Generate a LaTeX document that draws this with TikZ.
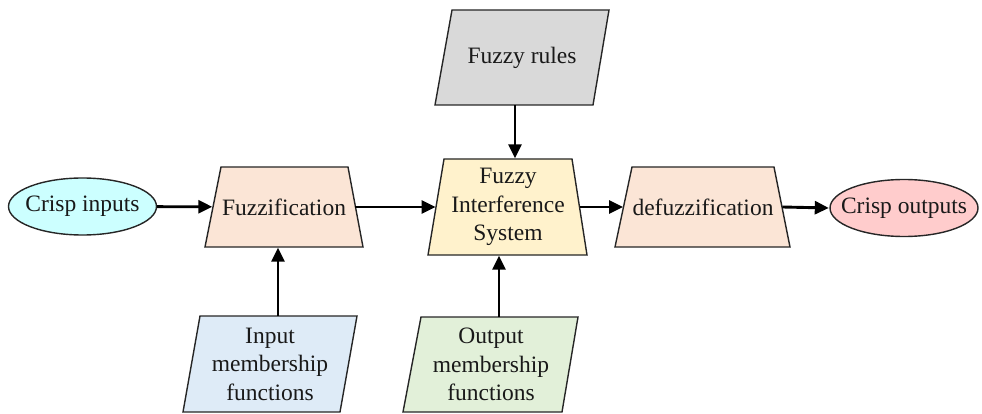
\documentclass[tikz,border=0pt]{standalone}
\usepackage{fontspec}
\setmainfont{Liberation Serif}
\usetikzlibrary{arrows.meta,shapes.geometric}
\definecolor{cin}{HTML}{CCFFFF}
\definecolor{cout}{HTML}{FFCCCC}
\definecolor{peach}{HTML}{FBE5D6}
\definecolor{fisc}{HTML}{FFF2CC}
\definecolor{rulec}{HTML}{D9D9D9}
\definecolor{inmc}{HTML}{DEEBF7}
\definecolor{outmc}{HTML}{E2F0D9}
\tikzset{
  shapeline/.style={draw=black!85, line width=1.4pt, line join=miter},
  txt/.style={font=\fontsize{23.5}{28.5}\selectfont, align=center, inner sep=0pt, text=black!90},
  ell/.style={ellipse, shapeline, inner sep=0pt, minimum width=148pt, minimum height=57pt},
  arr/.style={line width=2.9pt, -{Triangle[length=14pt,width=13pt]}, shorten >=0.5pt},
}
\begin{document}
\begin{tikzpicture}[x=1pt,y=-1pt]
\useasboundingbox (0,0) rectangle (982,414);
% shapes
\fill[peach] (221,167) -- (348,167) -- (363,247) -- (205,247) -- cycle;
\draw[shapeline] (221,167) -- (348,167) -- (363,247) -- (205,247) -- cycle;
\fill[fisc] (444,159) -- (572,159) -- (587,255) -- (428,255) -- cycle;
\draw[shapeline] (444,159) -- (572,159) -- (587,255) -- (428,255) -- cycle;
\fill[peach] (632,167) -- (774,167) -- (790,247) -- (615,247) -- cycle;
\draw[shapeline] (632,167) -- (774,167) -- (790,247) -- (615,247) -- cycle;
\fill[rulec] (452,10) -- (609,10) -- (593,105) -- (435,105) -- cycle;
\draw[shapeline] (452,10) -- (609,10) -- (593,105) -- (435,105) -- cycle;
\fill[inmc] (200,316) -- (357,316) -- (340,412) -- (183,412) -- cycle;
\draw[shapeline] (200,316) -- (357,316) -- (340,412) -- (183,412) -- cycle;
\fill[outmc] (421,317) -- (578,317) -- (562,412) -- (403,412) -- cycle;
\draw[shapeline] (421,317) -- (578,317) -- (562,412) -- (403,412) -- cycle;
% nodes
\node[ell, fill=cin] (ci) at (82.5,206.5) {};
\node[txt] (citxt) at (ci.center) {Crisp inputs};
\node[ell, fill=cout] (co) at (904,208) {};
\node[txt] (cotxt) at (co.center) {Crisp outputs};
\node[txt, minimum width=142pt, minimum height=80pt] (fuz) at (284,207) {Fuzzification};
\node[txt, minimum width=143.5pt, minimum height=96pt] (fis) at (508,207) {Fuzzy\\Interference\\System};
\node[txt, minimum width=158.5pt, minimum height=80pt] (def) at (703,207) {defuzzification};
\node[txt, minimum width=157.5pt, minimum height=95pt] (rules) at (522,57.5) {Fuzzy rules};
\node[txt, minimum width=157pt, minimum height=96pt] (inm) at (270,364) {Input\\membership\\functions};
\node[txt, minimum width=157.5pt, minimum height=95pt] (outm) at (491,364.5) {Output\\membership\\functions};
% connectors
\draw[arr] (ci) -- (fuz);
\draw[arr] (fuz) -- (fis);
\draw[arr] (fis) -- (def);
\draw[arr] (def.east) -- (co.west);
\draw[arr] ([xshift=-7pt]rules.south) -- ([xshift=7pt]fis.north);
\draw[arr] ([xshift=8pt]inm.north) -- ([xshift=-6pt]fuz.south);
\draw[arr] ([xshift=8pt]outm.north) -- ([xshift=-9pt]fis.south);
\end{tikzpicture}
\end{document}
